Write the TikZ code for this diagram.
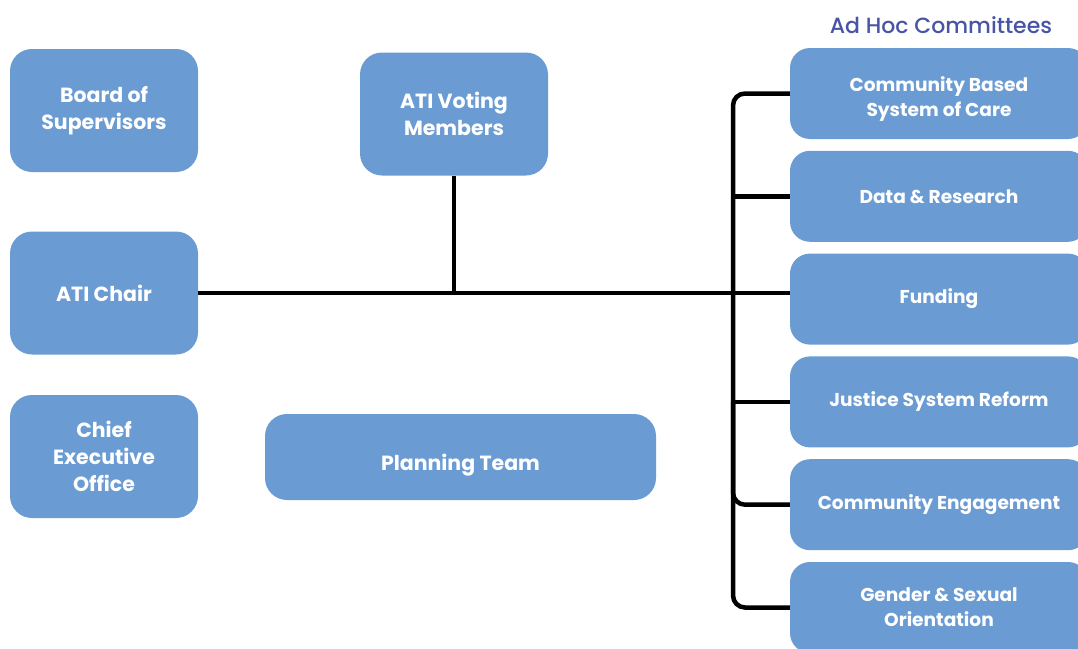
\documentclass[tikz,border=0pt]{standalone}
\usepackage{fontspec}
\setmainfont{Poppins}
\newfontfamily\titlefont{Poppins Medium}
\usetikzlibrary{positioning}
\definecolor{boxblue}{RGB}{106,155,210}
\definecolor{titleblue}{RGB}{72,84,166}
\tikzset{
node distance=11.4pt,
unit/.style={fill=boxblue, text=white, rounded corners=22pt, align=center,
  minimum width=188pt, minimum height=123pt, inner sep=0pt,
  font=\bfseries\fontsize{20.5}{27}\selectfont},
committee/.style={fill=boxblue, text=white, rounded corners=20pt, align=center,
  minimum width=298pt, minimum height=91pt, inner sep=0pt,
  font=\bfseries\fontsize{18.6}{25}\selectfont},
link/.style={line width=4.5pt, black},
}

\begin{document}
\begin{tikzpicture}[x=1pt,y=-1pt]
        \useasboundingbox (0,0) rectangle (1078,648);
        \node[unit] (board) at (104,110.5) {Board of\\Supervisors};
        \node[unit] (chair) at (104,293) {ATI Chair};
        \node[unit] (ceo) at (104,456.5) {Chief\\Executive\\Office};
        \node[unit] (voting) at (454,114) {ATI Voting\\Members};
        \node[unit, minimum width=391pt, minimum height=86pt, text height=26pt, text depth=0pt] (planning) at (460.5,457) {Planning Team};

        \node[committee, text height=46pt, text depth=0pt] (cbsc) at (939,93.5) {Community Based\\System of Care};
        \node[committee, below=of cbsc] (data) {Data \& Research};
        \node[committee, below=of data] (funding) {Funding};
        \node[committee, below=of funding] (justice) {Justice System Reform};
        \node[committee, below=of justice] (engage) {Community Engagement};
        \node[committee, below=of engage] (gender) {Gender \& Sexual\\Orientation};
        \node[text=titleblue, font=\titlefont\fontsize{22}{26}\selectfont] (adhoc) at (941,25) {Ad Hoc Committees};

        \coordinate (bus) at (733,0);
        \draw[link] (chair.east) -- (chair.east -| funding.west);
        \draw[link] (voting.south) -- (voting.south |- chair.east);
        \draw[link, rounded corners=12pt] (cbsc.west) -| (bus |- gender.west) -- (gender.west);
        \draw[link] (bus |- data.west) -- (data.west);
        \draw[link] (bus |- justice.west) -- (justice.west);
        \draw[link, rounded corners=12pt] (bus |- justice.west) |- (engage.west);
    \end{tikzpicture}
\end{document}
